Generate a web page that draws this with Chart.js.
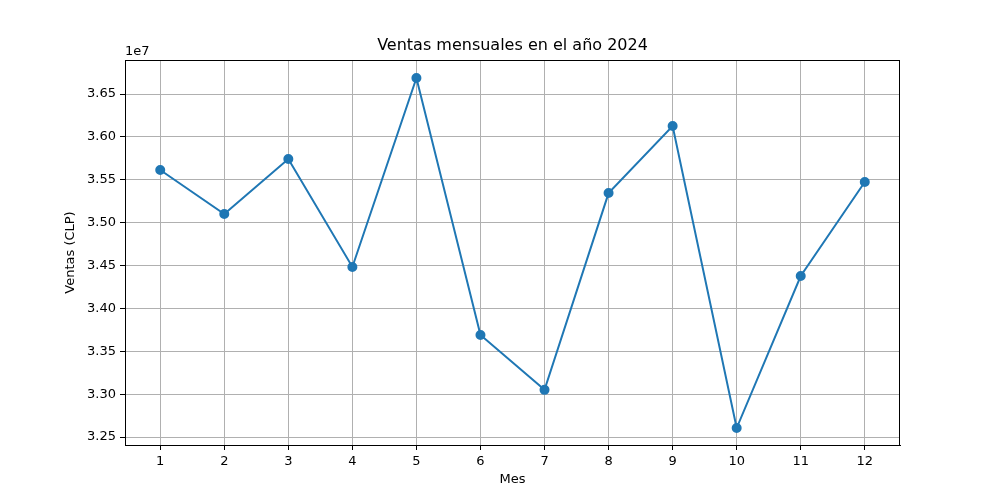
<!DOCTYPE html>
<html>
<head>
<meta charset="utf-8">
<script src="https://cdn.jsdelivr.net/npm/chart.js@4/dist/chart.umd.min.js"></script>
<style>
  html, body { margin: 0; padding: 0; background: #fff; }
  #wrap { width: 1000px; height: 500px; }
</style>
</head>
<body>
<div id="wrap"><canvas id="chart" width="1000" height="500"></canvas></div>
<script>
// --- DATA ---
const meses = [1, 2, 3, 4, 5, 6, 7, 8, 9, 10, 11, 12];
const ventas = [35614000, 35100000, 35742000, 34483000, 36687000, 33690000,
                33050000, 35345000, 36127000, 32605000, 34378000, 35474000];
const yTicks = [32500000, 33000000, 33500000, 34000000, 34500000, 35000000,
                35500000, 36000000, 36500000];

const FONT = 'DejaVu Sans';
const BLUE = '#1f77b4';

// title, axis labels, offset text and frame drawn by hand (matplotlib style)
const extraText = {
    id: 'extraText',
    afterDraw(chart) {
        const { ctx, chartArea } = chart;
        const cx = (chartArea.left + chartArea.right) / 2;
        const cy = (chartArea.top + chartArea.bottom) / 2;
        ctx.save();
        ctx.strokeStyle = '#000';
        ctx.lineWidth = 1;
        ctx.strokeRect(chartArea.left + 0.5, chartArea.top + 0.5,
            chartArea.right - chartArea.left - 1, chartArea.bottom - chartArea.top);
        ctx.fillStyle = '#000';
        ctx.font = `16px ${FONT}`;
        ctx.textAlign = 'center';
        ctx.textBaseline = 'bottom';
        ctx.fillText('Ventas mensuales en el año 2024', cx, chartArea.top - 6);
        ctx.font = `13px ${FONT}`;
        ctx.textBaseline = 'middle';
        ctx.fillText('Mes', cx, 480);
        ctx.save();
        ctx.translate(71, cy);
        ctx.rotate(-Math.PI / 2);
        ctx.fillText('Ventas (CLP)', 0, 0);
        ctx.restore();
        ctx.textAlign = 'left';
        ctx.textBaseline = 'bottom';
        ctx.fillText('1e7', chartArea.left, chartArea.top - 2);
        ctx.restore();
    }
};

new Chart(document.getElementById('chart'), {
    type: 'line',
    data: {
        datasets: [{
            data: meses.map((m, i) => ({ x: m, y: ventas[i] })),
            borderColor: BLUE,
            backgroundColor: BLUE,
            borderWidth: 2,
            pointRadius: 4,
            pointHoverRadius: 4,
            tension: 0
        }]
    },
    options: {
        responsive: false,
        animation: false,
        layout: { padding: { top: 60, right: 100, left: 0, bottom: 0 } },
        plugins: { legend: { display: false }, tooltip: { enabled: false } },
        scales: {
            x: {
                type: 'linear',
                min: 0.45,
                max: 12.55,
                afterBuildTicks: (axis) => { axis.ticks = meses.map(v => ({ value: v })); },
                afterFit: (axis) => { axis.height = 55; },
                ticks: { color: '#000', font: { family: FONT, size: 13 }, padding: 4 },
                grid: { color: '#b0b0b0', tickColor: '#000', tickLength: 5 },
                border: { color: '#000' }
            },
            y: {
                min: 32407000,
                max: 36897000,
                afterBuildTicks: (axis) => { axis.ticks = yTicks.map(v => ({ value: v })); },
                afterFit: (axis) => { axis.width = 125; },
                ticks: {
                    color: '#000', font: { family: FONT, size: 13 }, padding: 4,
                    callback: (v) => (v / 1e7).toFixed(2)
                },
                grid: { color: '#b0b0b0', tickColor: '#000', tickLength: 5 },
                border: { color: '#000' }
            }
        }
    },
    plugins: [extraText]
});
</script>
</body>
</html>
